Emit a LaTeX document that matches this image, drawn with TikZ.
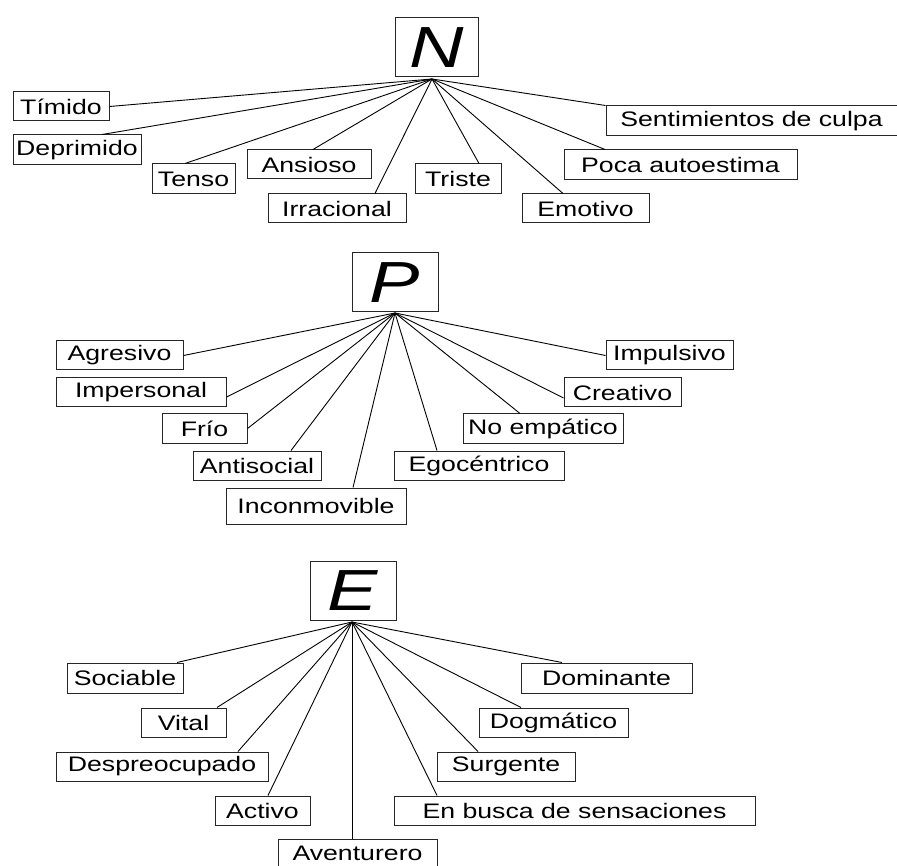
\documentclass[tikz,border=0pt]{standalone}
\usepackage{fontspec}
\setmainfont{Liberation Sans}
\newfontfamily\labfont[FakeStretch=1.27]{Liberation Sans}
\newfontfamily\bigfont[FakeStretch=1.3]{Liberation Sans}
\begin{document}
\begin{tikzpicture}[x=1pt,y=-1pt,
  lbl/.style={draw=black!85, line width=1pt, inner sep=0pt, font=\labfont\fontsize{21}{21}\selectfont},
  sz/.style 2 args={minimum width=#1pt, minimum height=#2pt},
  head/.style={draw=black!85, line width=1pt, inner sep=0pt, font=\bigfont\itshape\fontsize{58}{58}\selectfont},
  link/.style={line width=0.9pt, black}]
\useasboundingbox (0,0) rectangle (897,866);
\fill[white] (0,0) rectangle (897,866);

% ---------------- N ----------------
\node[head, sz={83}{59}] (N) at (436.5,47.5) {N};
\coordinate (nh) at (432,79);
\node[lbl, sz={96}{29}]  (tim) at (61,106.5) {Tímido};
\node[lbl, sz={128}{30}] (dep) at (77,150) {Deprimido};
\node[lbl, sz={83}{30}]  (ten) at (193.5,179) {Tenso};
\node[lbl, sz={124}{29}] (ans) at (309,164.5) {Ansioso};
\node[lbl, sz={138}{29}] (irr) at (337,208.5) {Irracional};
\node[lbl, sz={86}{30}]  (tri) at (458,179) {Triste};
\node[lbl, sz={127}{29}] (emo) at (585.5,208.5) {Emotivo};
\node[lbl, sz={233}{30}] (poc) at (680.5,165) {Poca autoestima};
\node[lbl, sz={291}{30}] (sen) at (751.5,121) {Sentimientos de culpa};
\draw[link] (nh) -- (tim.east);
\draw[link] (nh) -- ([xshift=25pt]dep.north);
\draw[link] (nh) -- ([xshift=-8.5pt]ten.north);
\draw[link] (nh) -- ([xshift=4pt]ans.north);
\draw[link] (nh) -- ([xshift=38pt]irr.north);
\draw[link] (nh) -- ([xshift=21pt]tri.north);
\draw[link] (nh) -- ([xshift=-22.5pt]emo.north);
\draw[link] (nh) -- ([xshift=-75.5pt]poc.north);
\draw[link] (nh) -- (sen.north west);

% ---------------- P ----------------
\node[head, sz={86}{59}] (P) at (395,282.5) {P};
\coordinate (ph) at (395,313);
\node[lbl, sz={127}{29}] (agr) at (119.5,355.5) {Agresivo};
\node[lbl, sz={170}{29}] (imp) at (141,392.5) {Impersonal};
\node[lbl, sz={85}{29}]  (fri) at (204.5,428.5) {Frío};
\node[lbl, sz={128}{29}] (ant) at (257,465.5) {Antisocial};
\node[lbl, sz={180}{36}] (inc) at (316,506) {Inconmovible};
\node[lbl, sz={170}{29}] (ego) at (479,465.5) {Egocéntrico};
\node[lbl, sz={160}{29}] (noe) at (543,428.5) {No empático};
\node[lbl, sz={117}{29}] (cre) at (622.5,392.5) {Creativo};
\node[lbl, sz={127}{29}] (ipu) at (669.5,355.5) {Impulsivo};
\draw[link] (ph) -- (agr.east);
\draw[link] (ph) -- ([yshift=-4.5pt]imp.east);
\draw[link] (ph) -- (fri.east);
\draw[link] (ph) -- ([xshift=34pt]ant.north);
\draw[link] (ph) -- ([xshift=37pt]inc.north);
\draw[link] (ph) -- ([xshift=-42pt]ego.north);
\draw[link] (ph) -- ([xshift=-23pt]noe.north);
\draw[link] (ph) -- ([yshift=-5.5pt]cre.west);
\draw[link] (ph) -- (ipu.west);

% ---------------- E ----------------
\node[head, sz={86}{59}] (E) at (353,590.5) {E};
\coordinate (eh) at (352,622);
\node[lbl, sz={116}{30}] (soc) at (125,678) {Sociable};
\node[lbl, sz={85}{29}]  (vit) at (183.5,722.5) {Vital};
\node[lbl, sz={212}{29}] (des) at (162,766.5) {Despreocupado};
\node[lbl, sz={95}{29}]  (act) at (262.5,810.5) {Activo};
\node[lbl, sz={159}{29}] (ave) at (357.5,853.5) {Aventurero};
\node[lbl, sz={361}{29}] (enb) at (574.5,810.5) {En busca de sensaciones};
\node[lbl, sz={138}{29}] (sur) at (506,766.5) {Surgente};
\node[lbl, sz={149}{29}] (dog) at (553.5,722.5) {Dogmático};
\node[lbl, sz={171}{30}] (dom) at (606.5,678) {Dominante};
\draw[link] (eh) -- ([xshift=52pt]soc.north);
\draw[link] (eh) -- ([xshift=33.5pt]vit.north);
\draw[link] (eh) -- ([xshift=76pt]des.north);
\draw[link] (eh) -- ([xshift=5.5pt]act.north);
\draw[link] (eh) -- ([xshift=-5.5pt]ave.north);
\draw[link] (eh) -- ([xshift=-137.5pt]enb.north);
\draw[link] (eh) -- ([xshift=-28pt]sur.north);
\draw[link] (eh) -- ([xshift=-32.5pt]dog.north);
\draw[link] (eh) -- ([xshift=-44.5pt]dom.north);
\end{tikzpicture}
\end{document}
